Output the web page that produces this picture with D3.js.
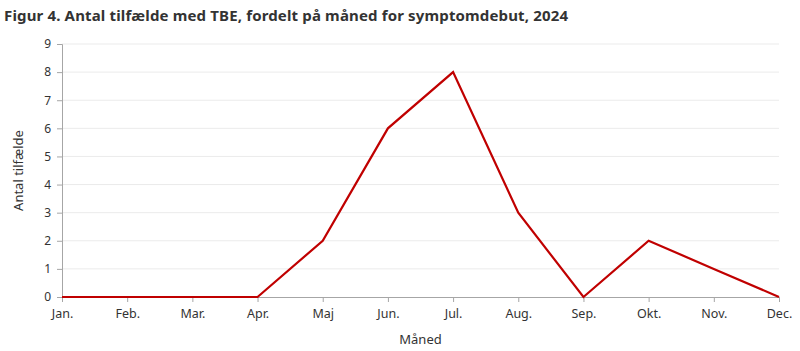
<!DOCTYPE html>
<html>
<head>
<meta charset="utf-8">
<script src="https://cdn.jsdelivr.net/npm/d3@7"></script>
<style>
  body { margin: 0; background: #fff; }
  text { font-family: "Noto Sans", sans-serif; }
</style>
</head>
<body>
<div id="chart-area"></div>
<script>
// Data
var months = ["Jan.", "Feb.", "Mar.", "Apr.", "Maj", "Jun.", "Jul.", "Aug.", "Sep.", "Okt.", "Nov.", "Dec."];
var cases = [0, 0, 0, 0, 2, 6, 8, 3, 0, 2, 1, 0];
var yTicks = [0, 1, 2, 3, 4, 5, 6, 7, 8, 9];

var width = 800, height = 351;
var margin = { left: 62, right: 21, top: 44, bottom: 54 };

var svg = d3.select("#chart-area")
    .append("svg")
    .attr("width", width)
    .attr("height", height);

// Title
svg.append("text")
    .attr("x", 4)
    .attr("y", 21)
    .attr("font-size", 15)
    .attr("font-weight", "bold")
    .attr("letter-spacing", 0.15)
    .attr("fill", "#333")
    .text("Figur 4. Antal tilfælde med TBE, fordelt på måned for symptomdebut, 2024");

// Scales
var x = d3.scalePoint()
    .domain(months)
    .range([margin.left, width - margin.right]);

var y = d3.scaleLinear()
    .domain([0, 9])
    .range([height - margin.bottom, margin.top]);

// Gridlines
svg.append("g")
    .selectAll("line")
    .data(yTicks.slice(1))
    .enter()
    .append("line")
    .attr("x1", margin.left)
    .attr("x2", width - margin.right)
    .attr("y1", (d) => y(d))
    .attr("y2", (d) => y(d))
    .attr("stroke", "#ebebeb")
    .attr("stroke-width", 1);

// Y axis
var yAxis = svg.append("g")
    .attr("transform", "translate(" + margin.left + ",0)")
    .call(d3.axisLeft(y).tickValues(yTicks).tickSize(5).tickPadding(6));
yAxis.select(".domain").attr("stroke", "#a6a6a6");
yAxis.selectAll(".tick line").attr("stroke", "#a6a6a6");
yAxis.selectAll("text").attr("font-size", 12).attr("fill", "#333")
    .style("font-family", "\"Noto Sans\", sans-serif");

// X axis
var xAxis = svg.append("g")
    .attr("transform", "translate(0," + y(0) + ")")
    .call(d3.axisBottom(x).tickSize(5).tickPadding(7).tickSizeOuter(0));
xAxis.select(".domain").attr("stroke", "#a6a6a6");
xAxis.selectAll(".tick line").attr("stroke", "#a6a6a6");
xAxis.selectAll("text").attr("font-size", 12.5).attr("fill", "#333")
    .style("font-family", "\"Noto Sans\", sans-serif");

// Axis labels
svg.append("text")
    .attr("transform", "translate(23," + ((margin.top + height - margin.bottom) / 2) + ") rotate(-90)")
    .attr("text-anchor", "middle")
    .attr("font-size", 13)
    .attr("fill", "#333")
    .text("Antal tilfælde");

svg.append("text")
    .attr("x", (margin.left + width - margin.right) / 2)
    .attr("y", 344)
    .attr("text-anchor", "middle")
    .attr("font-size", 13)
    .attr("fill", "#333")
    .text("Måned");

// Line
var line = d3.line()
    .x((d, i) => x(months[i]))
    .y((d) => y(d));

svg.append("path")
    .datum(cases)
    .attr("d", line)
    .attr("fill", "none")
    .attr("stroke", "#c00000")
    .attr("stroke-width", 2.2);
</script>
</body>
</html>
